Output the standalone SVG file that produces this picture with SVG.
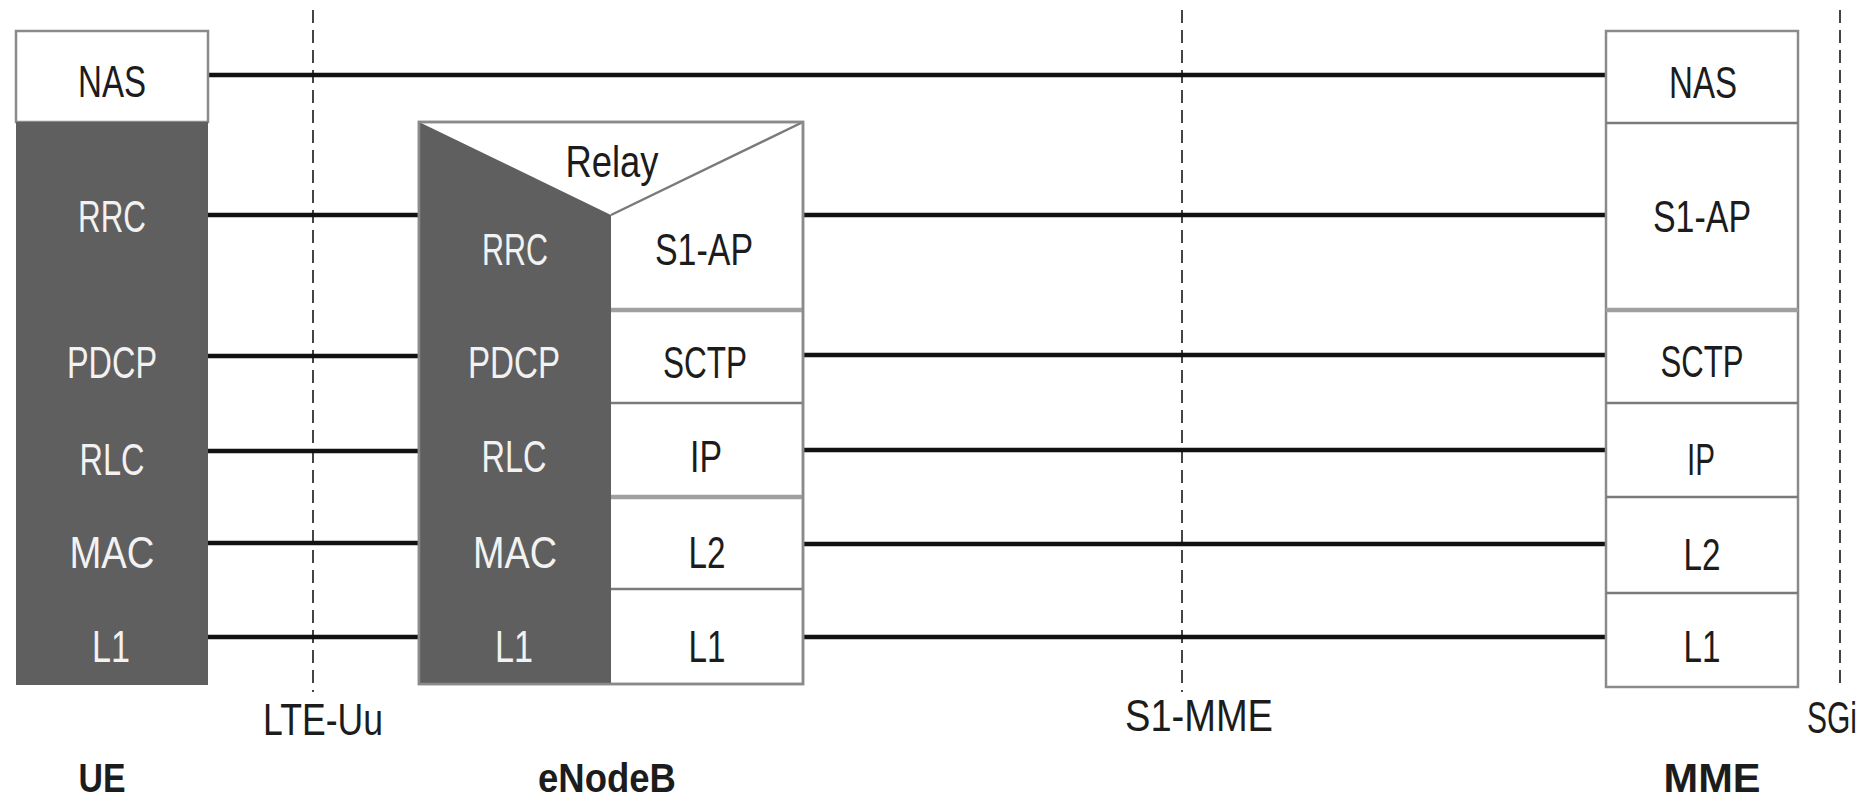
<svg xmlns="http://www.w3.org/2000/svg" width="1875" height="802" viewBox="0 0 1875 802">
<style>
  text { font-family: "Liberation Sans", Arial, sans-serif; font-size: 44px; text-anchor: middle; }
  .dk { fill: #f2f2f2; }
  .lt { fill: #1c1c1c; }
  .b { font-weight: bold; font-size: 41px; }
  .box { fill: #ffffff; stroke: #8a8a8a; stroke-width: 2.5; }
  .dark { fill: #5f5f5f; }
  .div { stroke: #7a7a7a; stroke-width: 2.5; fill: none; }
  .divw { stroke: #a0a0a0; stroke-width: 4.5; fill: none; }
  .conn { stroke: #111111; stroke-width: 4.5; fill: none; }
  .ref { stroke: #444444; stroke-width: 2; stroke-dasharray: 13 7; fill: none; }
</style>
<rect width="1875" height="802" fill="#ffffff"/>

<g id="reference-lines">
  <line class="ref" x1="313" y1="10" x2="313" y2="692"/>
  <line class="ref" x1="1182" y1="10" x2="1182" y2="692"/>
  <line class="ref" x1="1840" y1="10" x2="1840" y2="684"/>
</g>

<g id="connectors">
  <line class="conn" x1="208" y1="75" x2="1606" y2="75"/>
  <line class="conn" x1="208" y1="215" x2="419" y2="215"/>
  <line class="conn" x1="803" y1="215" x2="1606" y2="215"/>
  <line class="conn" x1="208" y1="356" x2="419" y2="356"/>
  <line class="conn" x1="803" y1="355" x2="1606" y2="355"/>
  <line class="conn" x1="208" y1="451" x2="419" y2="451"/>
  <line class="conn" x1="803" y1="450" x2="1606" y2="450"/>
  <line class="conn" x1="208" y1="543" x2="419" y2="543"/>
  <line class="conn" x1="803" y1="544" x2="1606" y2="544"/>
  <line class="conn" x1="208" y1="637" x2="419" y2="637"/>
  <line class="conn" x1="803" y1="637" x2="1606" y2="637"/>
</g>

<g id="ue">
  <rect class="box" x="16" y="31" width="192" height="91"/>
  <rect class="dark" x="16" y="122" width="192" height="563"/>
  <text class="lt" x="112" y="97" textLength="68" lengthAdjust="spacingAndGlyphs">NAS</text>
  <text class="dk" x="112" y="232" textLength="68" lengthAdjust="spacingAndGlyphs">RRC</text>
  <text class="dk" x="112" y="378" textLength="90" lengthAdjust="spacingAndGlyphs">PDCP</text>
  <text class="dk" x="112" y="475" textLength="65" lengthAdjust="spacingAndGlyphs">RLC</text>
  <text class="dk" x="112" y="568" textLength="85" lengthAdjust="spacingAndGlyphs">MAC</text>
  <text class="dk" x="111" y="662" textLength="38" lengthAdjust="spacingAndGlyphs">L1</text>
  <text class="lt b" x="102" y="792" textLength="47" lengthAdjust="spacingAndGlyphs">UE</text>
</g>

<g id="enodeb">
  <rect class="box" x="419" y="122" width="384" height="562"/>
  <polygon class="dark" points="419,122 611,215 611,684 419,684"/>
  <line class="div" x1="611" y1="215" x2="803" y2="122"/>
  <line class="divw" x1="611" y1="310" x2="803" y2="310"/>
  <line class="div" x1="611" y1="403" x2="803" y2="403"/>
  <line class="divw" x1="611" y1="497" x2="803" y2="497"/>
  <line class="div" x1="611" y1="589" x2="803" y2="589"/>
  <rect x="419" y="122" width="384" height="562" fill="none" stroke="#8a8a8a" stroke-width="2.5"/>
  <text class="lt" x="612" y="177" font-size="42" textLength="93" lengthAdjust="spacingAndGlyphs">Relay</text>
  <text class="dk" x="515" y="265" textLength="66" lengthAdjust="spacingAndGlyphs">RRC</text>
  <text class="dk" x="514" y="378" textLength="92" lengthAdjust="spacingAndGlyphs">PDCP</text>
  <text class="dk" x="514" y="472" textLength="65" lengthAdjust="spacingAndGlyphs">RLC</text>
  <text class="dk" x="515" y="568" textLength="84" lengthAdjust="spacingAndGlyphs">MAC</text>
  <text class="dk" x="514" y="662" textLength="38" lengthAdjust="spacingAndGlyphs">L1</text>
  <text class="lt" x="704" y="265" textLength="98" lengthAdjust="spacingAndGlyphs">S1-AP</text>
  <text class="lt" x="705" y="378" textLength="84" lengthAdjust="spacingAndGlyphs">SCTP</text>
  <text class="lt" x="706" y="472" textLength="32" lengthAdjust="spacingAndGlyphs">IP</text>
  <text class="lt" x="707" y="568" textLength="37" lengthAdjust="spacingAndGlyphs">L2</text>
  <text class="lt" x="707" y="662" textLength="37" lengthAdjust="spacingAndGlyphs">L1</text>
  <text class="lt b" x="607" y="792" textLength="138" lengthAdjust="spacingAndGlyphs">eNodeB</text>
</g>

<g id="mme">
  <rect class="box" x="1606" y="31" width="192" height="656"/>
  <line class="div" x1="1606" y1="123" x2="1798" y2="123"/>
  <line class="divw" x1="1606" y1="310" x2="1798" y2="310"/>
  <line class="div" x1="1606" y1="403" x2="1798" y2="403"/>
  <line class="div" x1="1606" y1="497" x2="1798" y2="497"/>
  <line class="div" x1="1606" y1="593" x2="1798" y2="593"/>
  <text class="lt" x="1703" y="98" textLength="68" lengthAdjust="spacingAndGlyphs">NAS</text>
  <text class="lt" x="1702" y="232" textLength="98" lengthAdjust="spacingAndGlyphs">S1-AP</text>
  <text class="lt" x="1702" y="377" textLength="83" lengthAdjust="spacingAndGlyphs">SCTP</text>
  <text class="lt" x="1701" y="475" textLength="28" lengthAdjust="spacingAndGlyphs">IP</text>
  <text class="lt" x="1702" y="570" textLength="37" lengthAdjust="spacingAndGlyphs">L2</text>
  <text class="lt" x="1702" y="662" textLength="37" lengthAdjust="spacingAndGlyphs">L1</text>
  <text class="lt b" x="1712" y="792" textLength="97" lengthAdjust="spacingAndGlyphs">MME</text>
</g>

<g id="interface-labels">
  <text class="lt" x="323" y="735" textLength="120" lengthAdjust="spacingAndGlyphs">LTE-Uu</text>
  <text class="lt" x="1199" y="731" textLength="148" lengthAdjust="spacingAndGlyphs">S1-MME</text>
  <text class="lt" x="1832" y="733" font-size="40" textLength="50" lengthAdjust="spacingAndGlyphs">SGi</text>
</g>
</svg>
